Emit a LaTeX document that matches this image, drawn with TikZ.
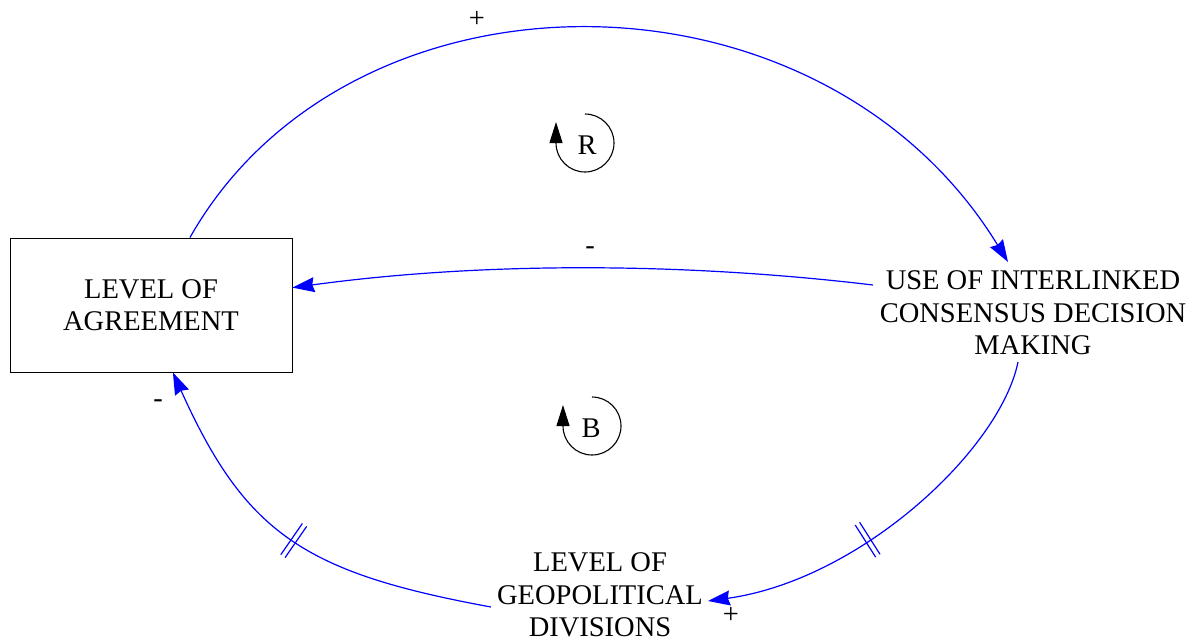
\documentclass[tikz,border=0pt]{standalone}
\usepackage{fontspec}
\setmainfont{Liberation Serif}
\usetikzlibrary{arrows.meta,decorations.markings}
\begin{document}
\begin{tikzpicture}[x=1pt,y=1pt,
  every node/.style={font=\fontsize{28.5}{32.5}\selectfont, text=black},
  var/.style={align=center, inner sep=3pt},
  stock/.style={draw=black, line width=0.9pt, minimum width=282pt, minimum height=134pt, align=center, inner sep=0pt},
  link/.style={draw=blue, line width=1.2pt, -{Stealth[length=22pt,width=15pt,inset=2pt]}},
  delaymark/.style={postaction={decorate, decoration={markings, mark=at position #1 with {
      \draw[blue, line width=1.2pt, arrows=-] (-2.6pt,-19pt) -- (-2.6pt,19pt);
      \draw[blue, line width=1.2pt, arrows=-] (2.6pt,-19pt) -- (2.6pt,19pt);}}}},
  loopsym/.style={draw=black, line width=1.1pt, -{Triangle[length=21pt,width=13pt]}},
  sign/.style={inner sep=0pt}
]
\useasboundingbox (0,0) rectangle (1202,-640);

\node[stock] (agree) at (151,-305) {LEVEL OF\\AGREEMENT};
\node[var] (use) at (1033,-313) {USE OF INTERLINKED\\CONSENSUS DECISION\\MAKING};
\node[var] (geo) at (600,-595) {LEVEL OF\\GEOPOLITICAL\\DIVISIONS};

% reinforcing link: agreement -> use
\draw[link] (agree.60) .. controls (350,45) and (820,45) .. ([shift={(-25,51)}]use.center);
% balancing: use -> agreement
\draw[link] ([shift={(-160,28)}]use.center) .. controls (680,-262) and (480,-262) .. (agree.7);
% use -> geopolitical divisions (delay)
\draw[link, delaymark=0.58] ([shift={(-15,-49)}]use.center) .. controls (1000,-450) and (860,-580) .. ([shift={(108,-6)}]geo.center);
% geopolitical divisions -> agreement (delay)
\draw[link, delaymark=0.5] ([shift={(-109,-12)}]geo.center) .. controls (304.8,-572.8) and (245.6,-534) .. (agree.-72);

% polarity signs
\node[sign] (s1) at (477,-19) {+};
\node[sign] (s2) at (590,-251) {-};
\node[sign] (s3) at (731,-615) {+};
\node[sign] (s4) at (158,-404) {-};

% loop identifiers
\node (R) at (587,-145) {R};
\draw[loopsym] (585,-114) arc[start angle=90, end angle=-180, radius=29] -- ++(0,21);
\node (B) at (591,-428) {B};
\draw[loopsym] (592,-397) arc[start angle=90, end angle=-180, radius=29] -- ++(0,21);
\end{tikzpicture}
\end{document}
